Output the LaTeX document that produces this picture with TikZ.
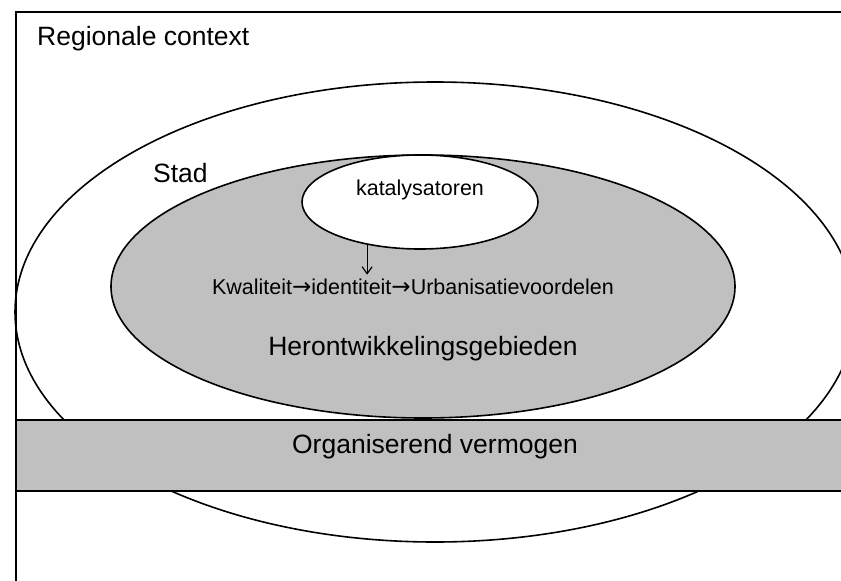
\documentclass[tikz,border=0pt]{standalone}
\usepackage{fontspec}
\setmainfont{Liberation Sans}
\newfontfamily\arrowfont{DejaVu Sans}
\usetikzlibrary{shapes.geometric,arrows.meta}
\definecolor{fillgray}{RGB}{192,192,192}
\newcommand{\rarr}{{\arrowfont\fontsize{23}{25}\selectfont →}}
\begin{document}
\begin{tikzpicture}[x=1pt,y=-1pt,
  frame/.style={draw=black,line width=2pt,rectangle,inner sep=0pt},
  ell/.style={draw=black,line width=1.6pt,ellipse,inner sep=0pt},
  band/.style={draw=black,line width=2pt,rectangle,fill=fillgray,inner sep=0pt},
  bigtxt/.style={font=\fontsize{26.5}{30}\selectfont,inner sep=0pt},
  midtxt/.style={font=\fontsize{21.5}{25}\selectfont,inner sep=0pt},
  conn/.style={line width=1.2pt,-{Straight Barb[length=7pt,width=10pt]}}]
\useasboundingbox (0,0) rectangle (841,581);
\clip (0,0) rectangle (841,581);
\node[frame,anchor=north west,minimum width=900pt,minimum height=620pt] (ctx) at (15,11) {};
\node[ell,minimum width=840pt,minimum height=460pt] (stad) at (435,312) {};
\node[ell,fill=fillgray,minimum width=624pt,minimum height=263pt] (herg) at (423,286.5) {};
\node[ell,fill=white,minimum width=236pt,minimum height=94pt] (kat) at (420,202) {};
\node[band,anchor=north west,minimum width=900pt,minimum height=71pt] (org) at (15,419) {};
\node[bigtxt,anchor=base west] (tctx) at (37,45) {Regionale context};
\node[bigtxt,anchor=base west] (tstad) at (153,182) {Stad};
\node[midtxt,anchor=base] (tkat) at (420,195) {katalysatoren};
\node[midtxt,anchor=base,inner sep=3.5pt] (kw) at (413,294) {Kwaliteit\rarr identiteit\rarr Urbanisatievoordelen};
\node[bigtxt,anchor=base] (therg) at (423,355) {Herontwikkelingsgebieden};
\node[bigtxt,anchor=base] (torg) at (435,453) {Organiserend vermogen};
\draw[conn] (kat.219.5) -- (kat.219.5 |- kw.north);
\end{tikzpicture}
\end{document}
